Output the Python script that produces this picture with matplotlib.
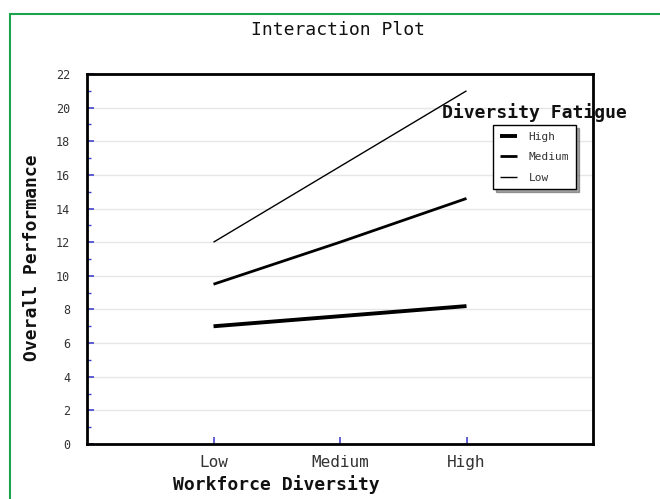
import matplotlib
matplotlib.use("Agg")
import matplotlib.pyplot as plt
from matplotlib.patches import Rectangle
from matplotlib.ticker import MultipleLocator

categories = ["Low", "Medium", "High"]
fatigue_levels = ["High", "Medium", "Low"]
perf_high = [7.0, 7.6, 8.2]
perf_medium = [9.5, 12.0, 14.6]
perf_low = [12.0, 16.5, 21.0]
series = [perf_high, perf_medium, perf_low]
widths = [2.8, 2.0, 1.0]

W, H = 660, 499
fig = plt.figure(figsize=(W / 100, H / 100), dpi=100)
fig.patch.set_facecolor("white")

# green border
fig.add_artist(Rectangle((10 / W, -0.1), 1.2, 1 - 14 / H + 0.1, transform=fig.transFigure,
                         fill=False, edgecolor="#1aa34a", linewidth=1.5))

ax = fig.add_axes([87 / W, 1 - 444 / H, (593 - 87) / W, (444 - 74) / H])
x = list(range(len(categories)))
lines = []
for vals, lw, name in zip(series, widths, fatigue_levels):
    l, = ax.plot(x, vals, color="black", linewidth=lw, label=name, solid_capstyle="butt")
    lines.append(l)

ax.set_xlim(-1, 3)
ax.set_ylim(0, 22)
ax.set_xticks(x)
ax.set_xticklabels(categories, family="DejaVu Sans Mono", fontsize=11.5, color="#333333")
ax.yaxis.set_major_locator(MultipleLocator(2))
ax.yaxis.set_minor_locator(MultipleLocator(1))
ax.tick_params(axis="both", which="both", direction="in", color="#4444cc")
ax.tick_params(axis="y", which="major", length=5, width=1.2, labelsize=8.5, labelcolor="#333333", pad=12)
ax.tick_params(axis="y", which="minor", length=3, width=1)
ax.tick_params(axis="x", which="major", length=5, width=1.2, pad=8)
for lab in ax.get_yticklabels():
    lab.set_family("DejaVu Sans Mono")
ax.grid(axis="y", which="major", color="#e6e6e6", linewidth=1)
ax.set_axisbelow(True)
for s in ax.spines.values():
    s.set_linewidth(2)
    s.set_color("black")

fig.text(338 / W, 1 - 30 / H, "Interaction Plot", ha="center", va="center",
         family="DejaVu Sans Mono", fontsize=13, color="#111111")
fig.text(276 / W, 1 - 485 / H, "Workforce Diversity", ha="center", va="center",
         family="DejaVu Sans Mono", fontweight="bold", fontsize=13, color="#111111")
fig.text(32 / W, 1 - 258 / H, "Overall Performance", ha="center", va="center", rotation=90,
         family="DejaVu Sans Mono", fontweight="bold", fontsize=13, color="#111111")
fig.text(534 / W, 1 - 113 / H, "Diversity Fatigue", ha="center", va="center",
         family="DejaVu Sans Mono", fontweight="bold", fontsize=13, color="#111111")

leg = fig.legend(handles=lines, labels=fatigue_levels, loc="upper left",
                 bbox_to_anchor=(493 / W, 1 - 125 / H), frameon=True, fancybox=False,
                 shadow=True, prop={"family": "DejaVu Sans Mono", "size": 8},
                 handlelength=1.6, handletextpad=1.0, borderpad=0.6, labelspacing=0.95,
                 borderaxespad=0)
leg.get_frame().set_edgecolor("black")
leg.get_frame().set_linewidth(1)
for t in leg.get_texts():
    t.set_color("#333333")

fig.savefig("out.png", dpi=100)
